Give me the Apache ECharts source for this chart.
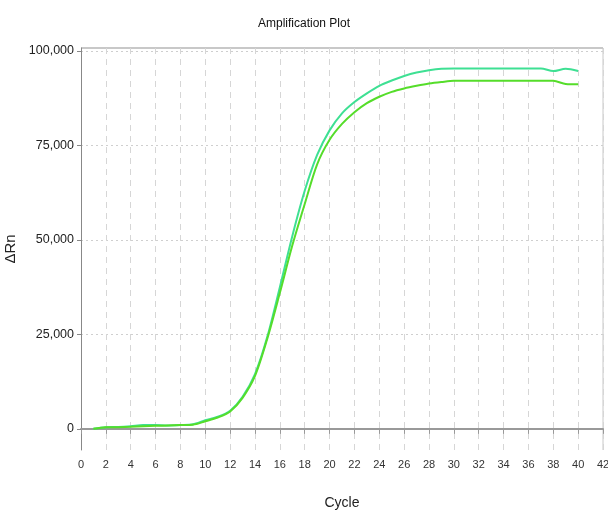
<!DOCTYPE html>
<html>
<head>
<meta charset="utf-8">
<script src="https://cdn.jsdelivr.net/npm/echarts@6/dist/echarts.min.js"></script>
<style>
  html, body { margin: 0; padding: 0; background: #fff; }
  #chart { width: 608px; height: 513px; }
</style>
</head>
<body>
<div id="chart"></div>
<script>
const cycles = [1, 2, 3, 4, 5, 6, 7, 8, 9, 10, 11, 12, 13, 14, 15, 16, 17, 18, 19, 20,
  21, 22, 23, 24, 25, 26, 27, 28, 29, 30, 31, 32, 33, 34, 35, 36, 37, 38, 39, 40];
const wellA = [0, 450, 500, 700, 1000, 1000, 900, 1000, 1200, 2300, 3200, 4800, 8500, 14500, 24500, 37500, 51000, 63000, 72500, 79000,
  83500, 86500, 88800, 90800, 92200, 93400, 94300, 94900, 95300, 95400, 95400, 95400, 95400, 95400, 95400, 95400, 95400, 94700, 95300, 94700];
const wellB = [0, 400, 450, 550, 700, 800, 900, 1000, 1100, 2000, 3000, 4600, 8200, 14000, 24000, 36000, 48500, 59500, 70000, 76500,
  80700, 83800, 86200, 87900, 89200, 90100, 90800, 91400, 91800, 92100, 92100, 92100, 92100, 92100, 92100, 92100, 92100, 92100, 91300, 91200];
const yTicks = [0, 25000, 50000, 75000, 100000];

const font = '"Liberation Sans Narrow", "Liberation Sans", sans-serif';
const chart = echarts.init(document.getElementById('chart'));

const pairs = arr => cycles.map((c, i) => [c, arr[i]]);

chart.setOption({
  animation: false,
  title: {
    text: 'Amplification Plot',
    left: 'center',
    top: 13,
    textStyle: { fontFamily: font, fontSize: 12, fontWeight: 'normal', color: '#111' }
  },
  grid: { left: 81, right: 5, top: 48, bottom: 63, outerBoundsMode: 'none', containLabel: false },
  xAxis: {
    type: 'value',
    min: 0,
    max: 42,
    interval: 2,
    name: 'Cycle',
    nameLocation: 'middle',
    nameGap: 46,
    nameTextStyle: { fontFamily: font, fontSize: 14, color: '#222' },
    axisLine: { lineStyle: { color: '#999', width: 2 } },
    axisTick: { length: 5, lineStyle: { color: '#999' } },
    axisLabel: { fontFamily: font, fontSize: 11, color: '#333', margin: 9 },
    splitLine: { show: true, lineStyle: { color: '#d6d6d6', type: [6, 5] } }
  },
  yAxis: {
    type: 'value',
    min: -5600,
    max: 100800,
    name: 'ΔRn',
    nameLocation: 'middle',
    nameGap: 53,
    nameTextStyle: { fontFamily: font, fontSize: 15, color: '#222' },
    axisLine: { show: true, lineStyle: { color: '#888', width: 1 } },
    axisTick: { show: true, length: 4, customValues: yTicks, lineStyle: { color: '#888' } },
    axisLabel: {
      fontFamily: font, fontSize: 12.5, color: '#222', margin: 7,
      customValues: yTicks,
      formatter: v => v.toLocaleString('en-US')
    },
    splitLine: { show: true, lineStyle: { color: '#cfcfcf', type: [2, 3] } }
  },
  series: [
    {
      name: 'A',
      type: 'line',
      data: pairs(wellA),
      showSymbol: false,
      smooth: 0.3,
      lineStyle: { color: '#3ee093', width: 2 }
    },
    {
      name: 'B',
      type: 'line',
      data: pairs(wellB),
      showSymbol: false,
      smooth: 0.3,
      lineStyle: { color: '#55dd2a', width: 2 }
    }
  ],
  graphic: [
    { type: 'line', shape: { x1: 81, y1: 48, x2: 603, y2: 48 }, style: { stroke: '#c8c8c8', lineWidth: 2 } },
    { type: 'line', shape: { x1: 603, y1: 48, x2: 603, y2: 450 }, style: { stroke: '#c8c8c8', lineWidth: 1 } }
  ]
});
</script>
</body>
</html>
